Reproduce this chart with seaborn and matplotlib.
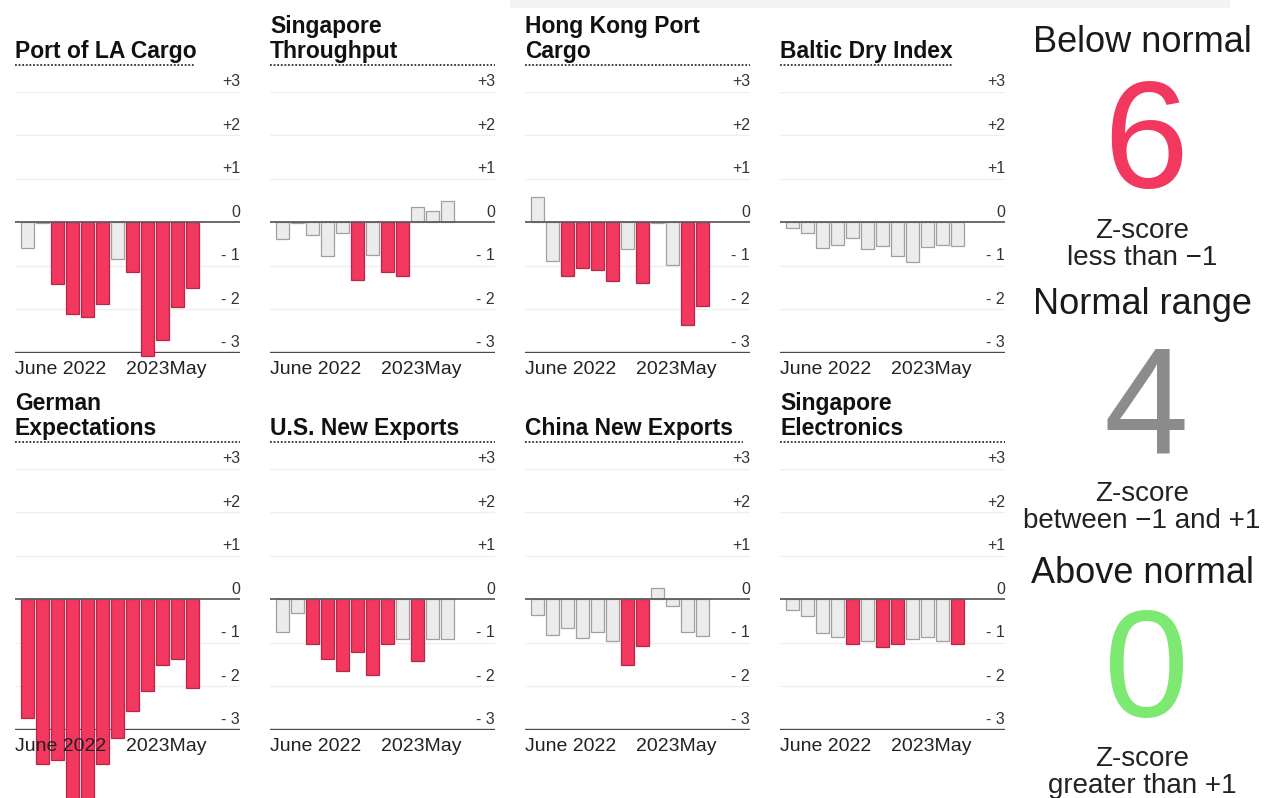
import numpy as np
import pandas as pd
import seaborn as sns
import matplotlib.pyplot as plt
from matplotlib.lines import Line2D

W, H = 1271, 798

months = ['2022-06', '2022-07', '2022-08', '2022-09', '2022-10', '2022-11',
          '2022-12', '2023-01', '2023-02', '2023-03', '2023-04', '2023-05']

titles = ['Port of LA Cargo', 'Singapore\nThroughput', 'Hong Kong Port\nCargo', 'Baltic Dry Index',
          'German\nExpectations', 'U.S. New Exports', 'China New Exports', 'Singapore\nElectronics']

port_la = [-0.60, -0.02, -1.42, -2.10, -2.18, -1.89, -0.85, -1.14, -3.08, -2.70, -1.95, -1.50]
sg_throughput = [-0.39, -0.02, -0.29, -0.78, -0.24, -1.32, -0.74, -1.14, -1.23, 0.35, 0.25, 0.48]
hk_cargo = [0.58, -0.88, -1.23, -1.05, -1.10, -1.35, -0.62, -1.39, -0.02, -0.98, -2.37, -1.93]
baltic = [-0.12, -0.25, -0.58, -0.52, -0.37, -0.62, -0.54, -0.78, -0.91, -0.56, -0.52, -0.55]
german = [-2.74, -3.78, -3.70, -4.70, -4.70, -3.78, -3.18, -2.58, -2.12, -1.52, -1.38, -2.05]
us_exports = [-0.74, -0.32, -1.03, -1.37, -1.65, -1.22, -1.73, -1.03, -0.91, -1.41, -0.92, -0.91]
china_exports = [-0.37, -0.81, -0.65, -0.89, -0.75, -0.96, -1.50, -1.08, 0.27, -0.16, -0.75, -0.85]
sg_electronics = [-0.25, -0.39, -0.77, -0.87, -1.03, -0.95, -1.10, -1.03, -0.92, -0.87, -0.96, -1.03]

series = [port_la, sg_throughput, hk_cargo, baltic, german, us_exports, china_exports, sg_electronics]

y_ticks = [3, 2, 1, 0, -1, -2, -3]
y_tick_labels = ['+3', '+2', '+1', '0', '- 1', '- 2', '- 3']

summary_labels = ['Below normal', 'Normal range', 'Above normal']
summary_counts = ['6', '4', '0']
summary_notes = ['Z-score\nless than \u22121', 'Z-score\nbetween \u22121 and +1', 'Z-score\ngreater than +1']

RED = '#f2385e'
RED_EDGE = '#b8274a'
LIGHT = '#ececec'
LIGHT_EDGE = '#a0a0a0'

sns.set_style('white')
plt.rcParams['font.family'] = ['Liberation Sans', 'DejaVu Sans']

fig = plt.figure(figsize=(W / 100, H / 100), dpi=100)


def px_axes(left, top, width, height):
    return fig.add_axes([left / W, 1 - (top + height) / H, width / W, height / H])


# faint strip at the very top (screenshot edge)
fig.add_artist(plt.Rectangle((510 / W, 1 - 8 / H), 720 / W, 8 / H, transform=fig.transFigure,
                             color='#f3f3f3', lw=0, zorder=0))

col_left = [15, 270, 525, 780]
row_top = [92, 469]            # pixel y of +3
row_title_base = [58, 435]     # baseline of last title line
row_rule = [65, 442]           # dotted rule under title
panel_w, panel_h = 225, 260.7
rule_frac = [0.8, 1.0, 1.0, 0.77, 1.0, 1.0, 0.97, 1.0]

for i, (title, vals) in enumerate(zip(titles, series)):
    r, c = divmod(i, 4)
    left = col_left[c]
    ax = px_axes(left, row_top[r], panel_w, panel_h)

    df = pd.DataFrame({'month': months, 'z': vals})
    df['state'] = np.where(df['z'] < -1, 'low', np.where(df['z'] > 1, 'high', 'normal'))
    sns.barplot(data=df, x='month', y='z', hue='state', order=months,
                hue_order=['low', 'normal', 'high'],
                palette={'low': RED, 'normal': LIGHT, 'high': '#7de872'},
                dodge=False, width=0.82, errorbar=None, legend=False,
                saturation=1, linewidth=0.9, ax=ax)
    for p in ax.patches:
        fc = p.get_facecolor()
        p.set_edgecolor(RED_EDGE if fc[1] < 0.5 else LIGHT_EDGE)
        p.set_clip_on(False)
        p.set_zorder(2)

    ax.set_xlim(-0.833, 14.167)
    ax.set_ylim(-3, 3)
    ax.axis('off')

    for y in [3, 2, 1, -1, -2]:
        ax.axhline(y, color='#eeeeee', lw=0.9, zorder=0)
    ax.axhline(0, color='#5e5e5e', lw=1.3, zorder=3)
    ax.axhline(-3, color='#4a4a4a', lw=1.7, zorder=1)

    for y, lab in zip(y_ticks, y_tick_labels):
        ax.text(1.0, y + 0.13, lab, transform=ax.get_yaxis_transform(),
                ha='right', va='baseline', fontsize=11.5, color='#333333')

    ax.text(-0.8, -3.2, 'June 2022', ha='left', va='top', fontsize=14,
            color='#222222', zorder=5)
    ax.text(6.6, -3.2, '2023May', ha='left', va='top', fontsize=14,
            color='#222222', zorder=5)

    lines = title.split('\n')
    for k, line in enumerate(reversed(lines)):
        yb = row_title_base[r] - 25 * k
        fig.text(left / W, 1 - yb / H, line, ha='left', va='baseline',
                 fontsize=16.5, fontweight='bold', color='#111111')
    ry = 1 - row_rule[r] / H
    fig.add_artist(Line2D([left / W, (left + panel_w * rule_frac[i]) / W], [ry, ry],
                          transform=fig.transFigure, color='#333333', lw=1.3,
                          linestyle=(0, (1, 1))))

# right-hand summary
cx = 1142 / W
label_base = [52, 314, 583]
count_base = [188, 453, 717]
note_base = [265, 528, 793]     # baseline of the last note line
count_colors = [RED, '#8c8c8c', '#7de872']
for lab, cnt, note, lb, cb, nb, col in zip(summary_labels, summary_counts, summary_notes,
                                           label_base, count_base, note_base, count_colors):
    fig.text(cx, 1 - lb / H, lab, ha='center', va='baseline', fontsize=26, color='#1a1a1a')
    fig.text(cx + 4 / W, 1 - cb / H, cnt, ha='center', va='baseline', fontsize=110, color=col)
    fig.text(cx, 1 - nb / H, note, ha='center', va='baseline', fontsize=20,
             color='#222222', linespacing=1.05)

fig.savefig('out.png', dpi=100)
